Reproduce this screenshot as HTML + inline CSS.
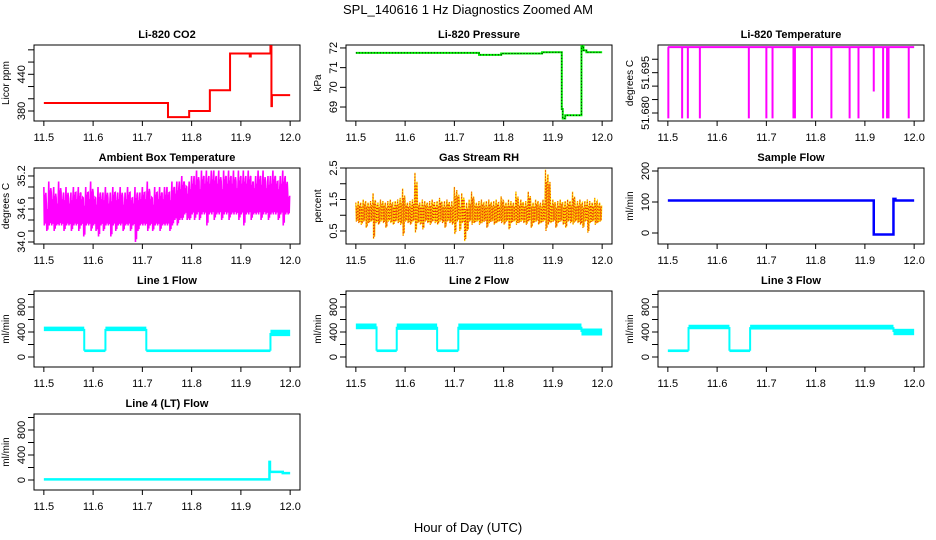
<!DOCTYPE html>
<html><head><meta charset="utf-8"><style>
html,body{margin:0;padding:0;background:#fff;}
svg{display:block;font-family:"Liberation Sans",Arial,sans-serif;}
</style></head><body>
<svg id="chart" width="936" height="540" viewBox="0 0 936 540" xmlns="http://www.w3.org/2000/svg">
<text x="468" y="14" text-anchor="middle" font-size="13">SPL_140616  1 Hz Diagnostics Zoomed AM</text>
<text x="468" y="532" text-anchor="middle" font-size="13">Hour of Day (UTC)</text>
</svg>
<script>
const xTicks=[11.5,11.6,11.7,11.8,11.9,12.0];
const xTickLabels=["11.5","11.6","11.7","11.8","11.9","12.0"];

const co2Times=[11.5,11.752,11.795,11.837,11.878,11.918,11.920,11.960,11.962,11.963];
const co2Vals=[393,370,380,414,474,469,474,486,388,406];

const presTimes=[11.5,11.75,11.795,11.878,11.918,11.920,11.925,11.958,11.962,11.968];
const presVals=[71.75,71.65,71.72,71.78,68.9,68.42,68.58,72.1,71.88,71.78];

const tempBase=51.7045;
const spikeTimes=[11.501,11.529,11.5406,11.565,11.6644,11.700,11.7125,11.755,11.758,11.7923,11.832,11.869,11.887,11.918,11.937,11.945,11.948,11.989];
const spikeMins=[51.678,51.678,51.678,51.678,51.678,51.678,51.678,51.678,51.678,51.678,51.678,51.678,51.678,51.688,51.678,51.678,51.678,51.678];

const ambHi=[35.0,34.7,35.1,34.9,35.0,34.8,35.1,34.9,34.9,35.0,34.8,34.9,35.0,34.9,35.0,34.9,34.8,35.0,34.9,35.1,34.9,34.8,35.0,34.9,34.9,35.0,34.8,34.9,35.0,34.9,34.9,35.0,34.8,34.9,35.0,34.9,34.8,35.0,34.9,34.9,35.0,34.9,35.1,34.9,34.8,35.0,34.9,35.0,34.9,35.0,35.0,34.9,35.1,35.0,35.1,35.1,35.2,35.1,35.0,35.1,35.2,35.2,35.3,35.1,35.3,35.2,35.3,35.2,35.3,35.3,35.2,35.3,35.1,35.3,35.2,35.3,35.2,35.3,35.1,35.3,35.2,35.3,35.2,35.3,35.2,35.1,35.2,35.3,35.2,35.3,35.1,35.2,35.2,35.3,35.2,35.1,35.2,35.3,35.2,34.9];
const ambLo=[34.3,34.2,34.3,34.3,34.2,34.3,34.3,34.3,34.2,34.3,34.3,34.2,34.3,34.3,34.2,34.3,34.1,34.3,34.3,34.2,34.3,34.2,34.1,34.3,34.2,34.3,34.3,34.1,34.3,34.2,34.3,34.3,34.2,34.3,34.3,34.2,34.3,34.0,34.2,34.3,34.3,34.3,34.2,34.3,34.2,34.3,34.3,34.2,34.3,34.3,34.3,34.2,34.3,34.4,34.3,34.4,34.4,34.5,34.4,34.4,34.5,34.4,34.5,34.4,34.5,34.5,34.3,34.5,34.5,34.4,34.5,34.5,34.4,34.5,34.5,34.4,34.5,34.5,34.5,34.4,34.5,34.3,34.5,34.5,34.4,34.5,34.5,34.5,34.4,34.5,34.5,34.4,34.5,34.5,34.5,34.4,34.5,34.3,34.5,34.5];

const rhHi=[1.4,1.45,1.4,1.5,1.45,1.4,1.45,1.7,1.45,1.4,1.5,1.45,1.4,1.45,1.5,1.4,1.45,1.5,1.55,1.85,1.45,1.4,1.45,1.5,2.35,1.45,1.4,1.5,1.45,1.4,1.45,1.5,1.4,1.45,1.55,1.4,1.45,1.5,1.4,1.45,1.9,1.8,1.45,1.7,1.45,1.4,1.5,1.75,1.45,1.4,1.45,1.5,1.4,1.45,1.5,1.4,1.45,1.5,1.4,1.6,1.45,1.4,1.5,1.45,1.4,1.75,1.45,1.5,1.4,1.45,1.75,1.45,1.4,1.5,1.45,1.4,1.5,2.45,2.3,1.45,1.5,1.4,1.45,1.5,1.4,1.45,1.5,1.45,1.75,1.4,1.45,1.5,1.4,1.45,1.5,1.45,1.4,1.55,1.45,1.4];
const rhLo=[0.8,0.75,0.7,0.8,0.6,0.75,0.8,0.25,0.75,0.7,0.8,0.75,0.6,0.8,0.75,0.7,0.8,0.75,0.7,0.35,0.8,0.75,0.7,0.8,0.45,0.75,0.7,0.55,0.8,0.75,0.7,0.8,0.75,0.7,0.8,0.75,0.6,0.8,0.75,0.7,0.4,0.8,0.5,0.75,0.18,0.5,0.8,0.7,0.75,0.8,0.7,0.75,0.8,0.6,0.75,0.8,0.7,0.75,0.8,0.75,0.7,0.8,0.55,0.75,0.8,0.7,0.75,0.8,0.75,0.7,0.8,0.6,0.75,0.8,0.7,0.75,0.8,0.5,0.7,0.75,0.8,0.6,0.75,0.8,0.7,0.6,0.8,0.75,0.7,0.8,0.75,0.7,0.6,0.8,0.45,0.75,0.8,0.7,0.75,0.8];

const sfTimes=[11.5,11.918,11.958,11.962];
const sfVals=[105,-5,110,105];

const l1Start=[11.5,11.582,11.625,11.708,11.96];
const l1Lo=[430,95,430,95,350];
const l1Hi=[470,105,470,105,420];
const l2Start=[11.5,11.542,11.583,11.665,11.708,11.958];
const l2Lo=[460,95,450,95,450,360];
const l2Hi=[520,105,520,105,520,440];
const l3Start=[11.5,11.542,11.625,11.667,11.958];
const l3Lo=[95,460,95,455,365];
const l3Hi=[105,500,105,500,435];

const l4Times=[11.5,11.958,11.959,11.985];
const l4Vals=[10,290,130,110];

const flowTicks=[0,200,400,600,800,1000];
const flowLabels=["0","","400","","800",""];

const NS="http://www.w3.org/2000/svg";
const svg=document.getElementById('chart');
function el(tag,attrs,parent){const e=document.createElementNS(NS,tag);for(const k in attrs)e.setAttribute(k,attrs[k]);(parent||svg).appendChild(e);return e;}

function panel(col,row,title,ylab,d0,d1,ticks,labels,name){
  const L=34+312*col,T=45+123*row,R=L+266,B=T+76;
  const g=el('g',{});
  
  
  const x=t=>L+9.85+(t-11.5)*492.6;
  const y=v=>B-(v-d0)/(d1-d0)*76;
  const box=el('rect',{x:L,y:T,width:R-L,height:B-T,fill:'none',stroke:'#000','stroke-width':1},g);
  
  
  const tt=el('text',{x:(L+R)/2,y:T-7,'text-anchor':'middle','font-size':11,'font-weight':'bold'},g);
  tt.textContent=title;
  
  
  const yl=el('text',{x:0,y:0,'text-anchor':'middle','font-size':10,transform:`translate(${L-25},${(T+B)/2}) rotate(-90)`},g);
  yl.textContent=ylab;
  
  
  xTicks.forEach((t,i)=>{
    el('line',{x1:x(t),x2:x(t),y1:B,y2:B+5,stroke:'#000'},g);
    const lb=el('text',{x:x(t),y:B+20,'text-anchor':'middle','font-size':11},g);
    lb.textContent=xTickLabels[i];
    
    
  });
  ticks.forEach((v,i)=>{
    el('line',{x1:L-6,x2:L,y1:y(v),y2:y(v),stroke:'#000'},g);
    if(labels[i]){
      const lb=el('text',{x:0,y:0,'text-anchor':'middle','font-size':11,transform:`translate(${L-9},${y(v)}) rotate(-90)`},g);
      lb.textContent=labels[i];
      
      
    }
  });
  const clip='clip-'+name;
  const cp=el('clipPath',{id:clip},g);
  el('rect',{x:L,y:T,width:R-L,height:B-T},cp);
  const dg=el('g',{'clip-path':`url(#${clip})`},g);
  return {x,y,g:dg};
}
function stepPath(p,times,vals){
  let d='';
  for(let i=0;i<times.length;i++){
    const x0=p.x(times[i]),x1=p.x(i+1<times.length?times[i+1]:12.0),yy=p.y(vals[i]);
    d+=(i===0?'M':'L')+x0+','+yy+'L'+x1+','+yy;
  }
  return d;
}
function line(p,d,color,w,name,dash){
  const a={d:d,fill:'none',stroke:color,'stroke-width':w,'stroke-linejoin':'miter'};
  if(dash)a['stroke-dasharray']=dash;
  const e=el('path',a,p.g);
  
  
  return e;
}
function bandSeries(p,starts,lo,hi,color,name){
  let d='';
  for(let i=0;i<starts.length;i++){
    const x0=p.x(starts[i]),x1=p.x(i+1<starts.length?starts[i+1]:12.0);
    const r=el('rect',{x:x0,y:p.y(hi[i])-1,width:x1-x0,height:p.y(lo[i])-p.y(hi[i])+2,fill:color},p.g);
    
    
    if(i>0){const m0=(lo[i-1]+hi[i-1])/2,m1=(lo[i]+hi[i])/2;d+='M'+x0+','+p.y(m0)+'L'+x0+','+p.y(m1);}
  }
  if(d)line(p,d,color,2,name+'-transition');
}
function noisy(p,hi,lo){
  const n=hi.length,dt=0.5/n;let d='';
  for(let i=0;i<n;i++){
    const t=11.5+i*dt,h=hi[i],l=lo[i],r=h-l;
    d+=(i===0?'M':'L')+p.x(t)+','+p.y(h)
      +'L'+p.x(t+dt*0.2)+','+p.y(l)
      +'L'+p.x(t+dt*0.4)+','+p.y(l+r*0.8)
      +'L'+p.x(t+dt*0.6)+','+p.y(l+r*0.05)
      +'L'+p.x(t+dt*0.8)+','+p.y(l+r*0.85);
  }
  return d;
}

// Row 1
let p=panel(0,0,'Li-820 CO2','Licor ppm',363.65,487.9,[380,400,420,440,460,480],['380','','','440','',''],'co2');
line(p,stepPath(p,co2Times,co2Vals),'#ff0000',2,'co2-line');

p=panel(1,0,'Li-820 Pressure','kPa',68.29,72.15,[69,70,71,72],['69','70','71','72'],'pressure');
line(p,stepPath(p,presTimes,presVals),'#00ee00',2,'pressure-line');
line(p,stepPath(p,presTimes,presVals),'#000',1,'pressure-points','1 2');

p=panel(2,0,'Li-820 Temperature','degrees C',51.67702,51.7053,[51.680,51.685,51.690,51.695,51.700],['51.680','','','51.695',''],'temperature');
{let d='M'+p.x(11.5)+','+p.y(tempBase)+'L'+p.x(12.0)+','+p.y(tempBase);
 spikeTimes.forEach((t,i)=>{d+='M'+p.x(t)+','+p.y(tempBase)+'L'+p.x(t)+','+p.y(spikeMins[i]);});
 line(p,d,'#ff00ff',2,'temperature-line');}

// Row 2
p=panel(0,1,'Ambient Box Temperature','degrees C',33.9636,35.345,[34.0,34.2,34.4,34.6,34.8,35.0,35.2],['34.0','','','34.6','','','35.2'],'ambient');
line(p,noisy(p,ambHi,ambLo),'#ff00ff',1.6,'ambient-line');

p=panel(1,1,'Gas Stream RH','percent',0.0873,2.5,[0.5,1.0,1.5,2.0,2.5],['0.5','','1.5','','2.5'],'rh');
line(p,noisy(p,rhHi,rhLo),'#ffd700',1.4,'rh-line');
line(p,noisy(p,rhHi,rhLo),'#e8200c',0.8,'rh-points','1 2');

p=panel(2,1,'Sample Flow','ml/min',-35.5,209.7,[0,100,200],['0','100','200'],'sample-flow');
line(p,stepPath(p,sfTimes,sfVals),'#0000ff',2.5,'sample-flow-line');

// Row 3
p=panel(0,2,'Line 1 Flow','ml/min',-160,1056,flowTicks,flowLabels,'line1-flow');
bandSeries(p,l1Start,l1Lo,l1Hi,'#00ffff','line1-flow');
p=panel(1,2,'Line 2 Flow','ml/min',-160,1056,flowTicks,flowLabels,'line2-flow');
bandSeries(p,l2Start,l2Lo,l2Hi,'#00ffff','line2-flow');
p=panel(2,2,'Line 3 Flow','ml/min',-160,1056,flowTicks,flowLabels,'line3-flow');
bandSeries(p,l3Start,l3Lo,l3Hi,'#00ffff','line3-flow');

// Row 4
p=panel(0,3,'Line 4 (LT) Flow','ml/min',-160,1056,flowTicks,flowLabels,'line4-flow');
line(p,stepPath(p,l4Times,l4Vals),'#00ffff',2.5,'line4-flow-line');
</script>
</body></html>
